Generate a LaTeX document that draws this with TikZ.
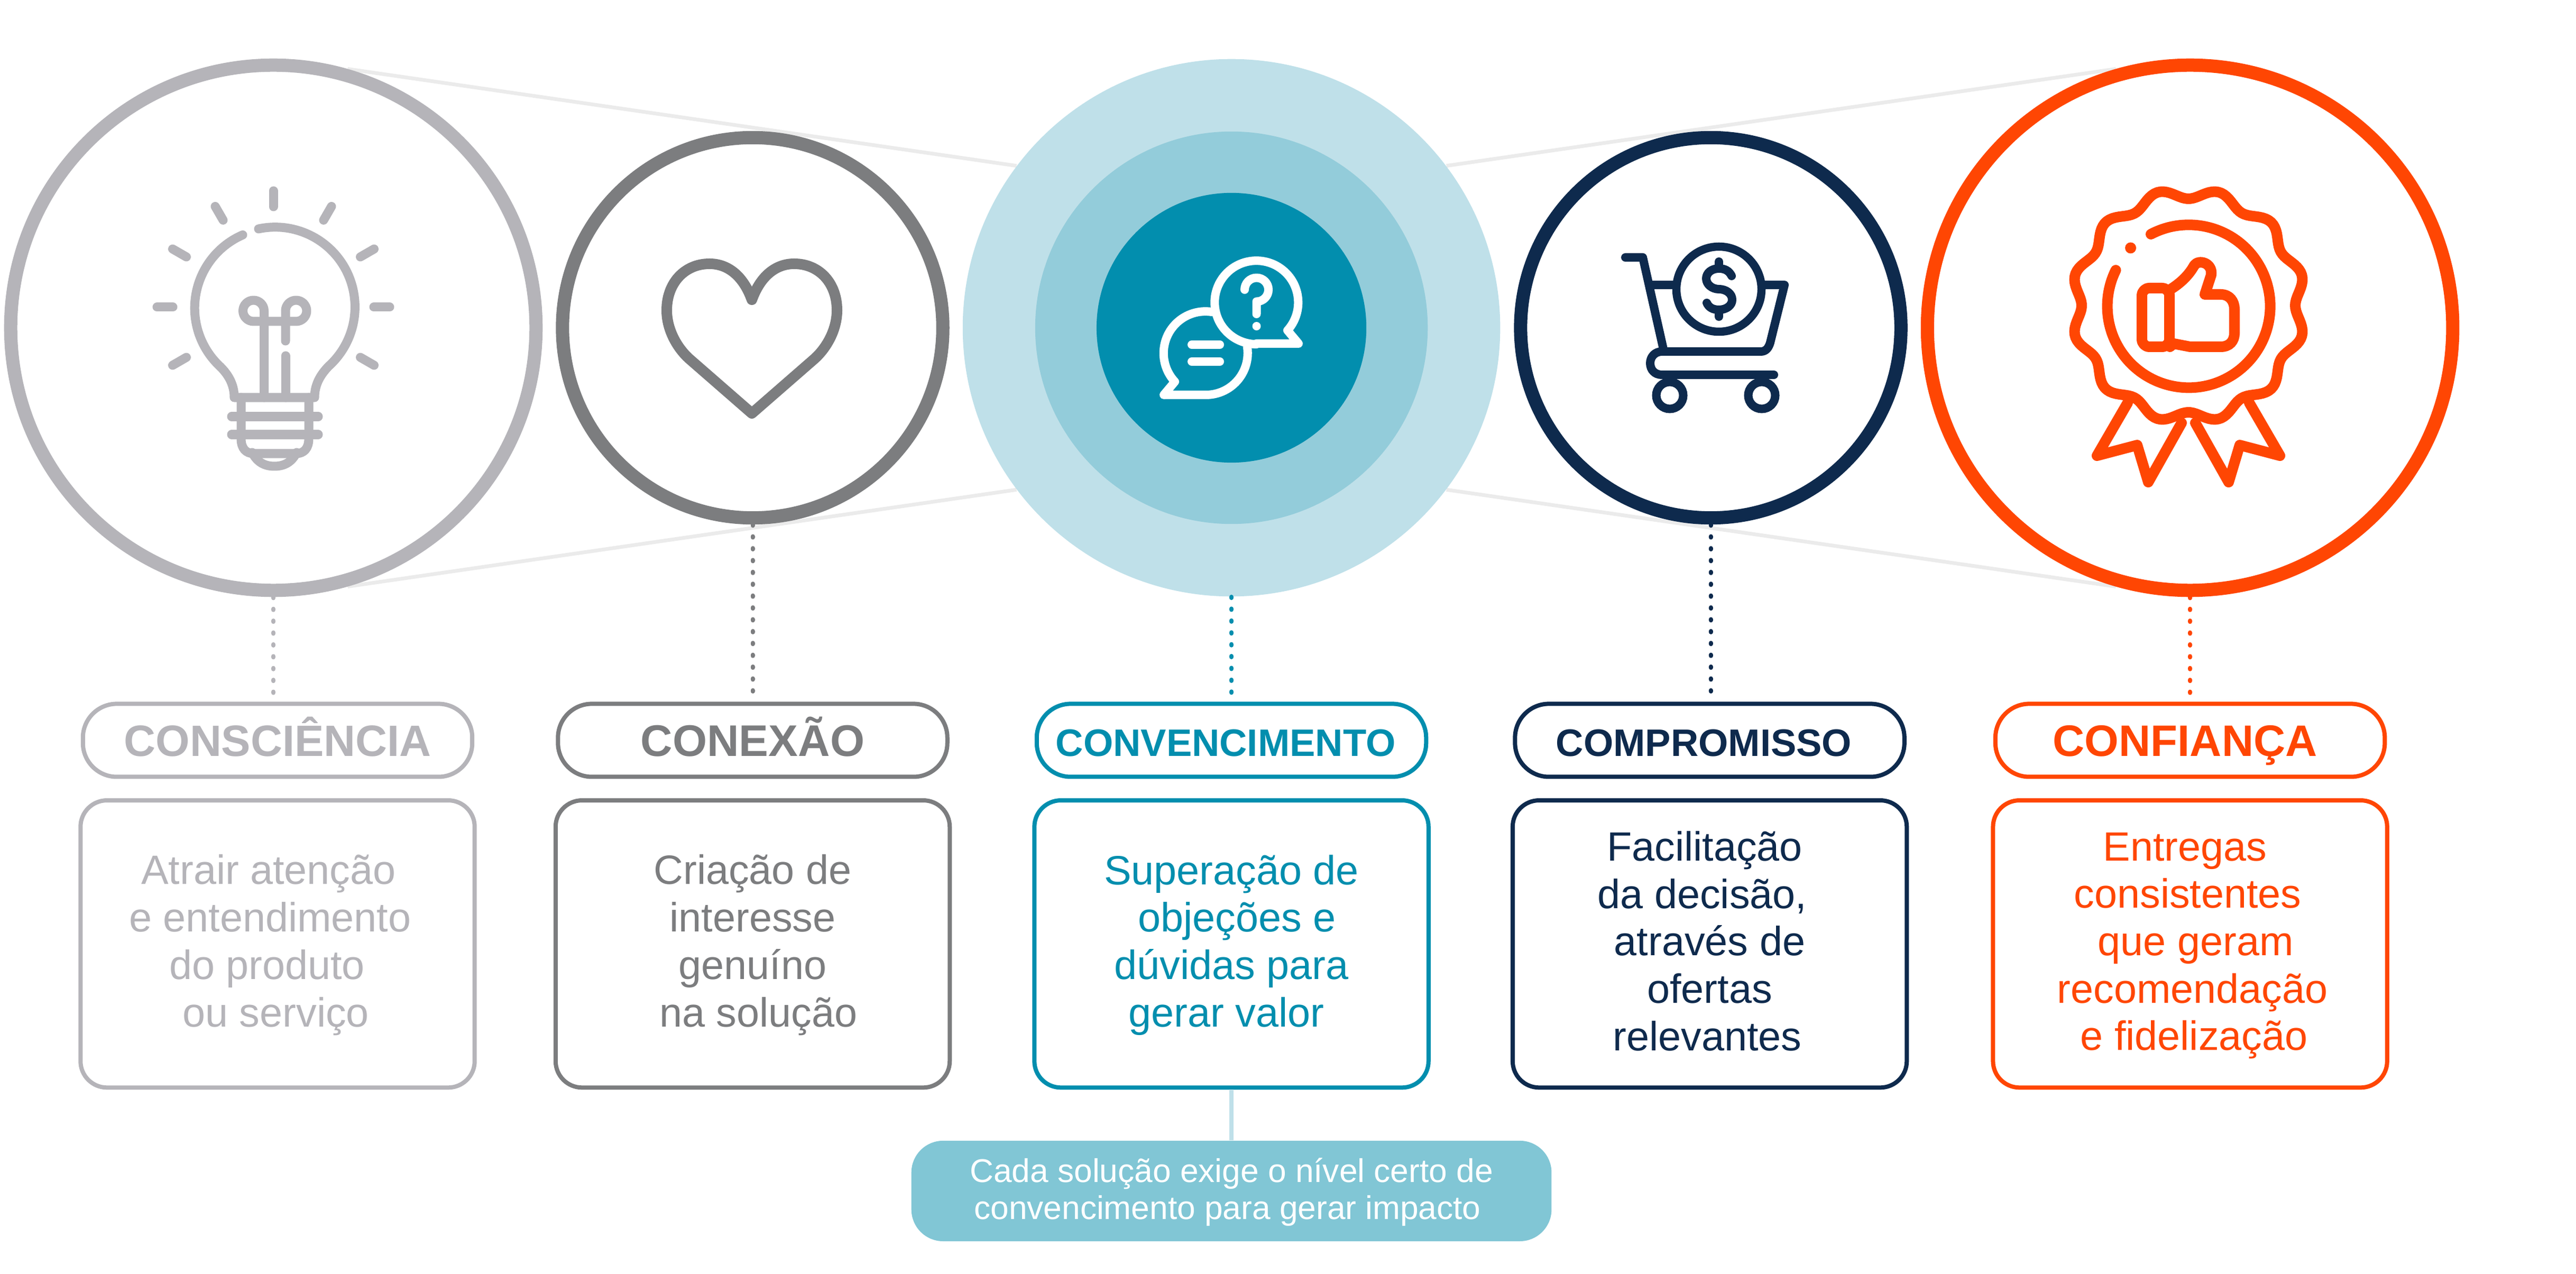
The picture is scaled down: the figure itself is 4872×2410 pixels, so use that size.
\documentclass[tikz,border=0pt]{standalone}
\usepackage{fontspec}
\setmainfont{Liberation Sans}
\usepackage{tikz}
\usetikzlibrary{backgrounds}
\definecolor{faint}{HTML}{B5B4B9}
\definecolor{slate}{HTML}{7C7D7F}
\definecolor{teal1}{HTML}{028EAE}
\definecolor{teal2}{HTML}{93CCDA}
\definecolor{teal3}{HTML}{BFE0E9}
\definecolor{teal4}{HTML}{81C6D5}
\definecolor{navy}{HTML}{0E2A4D}
\definecolor{flame}{HTML}{FF4603}
\definecolor{haze}{HTML}{EBEBEB}
\newcommand{\cardtop}{\rule{0pt}{0.6cm}}
\newcommand{\cardbot}{\rule[-0.16cm]{0pt}{0.16cm}}
\begin{document}
\begin{tikzpicture}[x=0.01cm, y=-0.01cm, node distance=9.06cm]
\useasboundingbox (0,0) rectangle (4872,2410);
% Define styles
\tikzstyle{bigring} = [circle, draw, fill=white, line width=0.25cm, minimum size=9.93cm]
\tikzstyle{midring} = [circle, draw, fill=white, line width=0.25cm, minimum size=7.19cm]
\tikzstyle{disc} = [circle, inner sep=0pt]
\tikzstyle{pill} = [rectangle, draw, fill=white, rounded corners=0.64cm, line width=0.08cm, minimum width=7.36cm, minimum height=1.38cm, inner sep=0pt, text height=0.6cm, text depth=0cm, font=\bfseries, node distance=7.8cm]
\tikzstyle{card} = [rectangle, draw, fill=white, rounded corners=0.5cm, line width=0.08cm, minimum width=7.45cm, minimum height=5.43cm, inner sep=0pt, align=center, font=\fontsize{22}{25.5}\selectfont, node distance=3.85cm]
\tikzstyle{note} = [rectangle, fill=teal4, text=white, rounded corners=0.6cm, minimum width=12.1cm, minimum height=1.9cm, inner sep=0pt, align=center, font=\fontsize{17.7}{20.1}\selectfont, node distance=4.67cm]
\tikzstyle{dots} = [line width=0.08cm, line cap=round, dash pattern=on 0.6pt off 5.77pt]
\tikzstyle{link} = [haze, line width=0.07cm]
\tikzstyle{icon} = [line width=0.17cm, line cap=round, line join=round]
% Place nodes
\node (c1) [bigring, draw=faint] at (517,620) {};
\node (c2) [midring, draw=slate, right of=c1] {};
\node (c3) [disc, fill=teal3, minimum size=10.16cm, right of=c2, xshift=-0.01cm] {};
\node (c3b) [disc, fill=teal2, minimum size=7.42cm] at (c3) {};
\node (c3c) [disc, fill=teal1, minimum size=5.1cm] at (c3) {};
\node (c4) [midring, draw=navy, right of=c3] {};
\node (c5) [bigring, draw=flame, right of=c4] {};
\node (p1) [pill, draw=faint, text=faint, below of=c1, xshift=0.08cm] {\fontsize{23.6}{28}\selectfont CONSCIÊNCIA};
\node (p2) [pill, draw=slate, text=slate, below of=c2] {\fontsize{23.8}{28}\selectfont CONEXÃO};
\node (p3) [pill, draw=teal1, text=teal1, below of=c3] {\fontsize{20.6}{24}\selectfont CONVENCIMENTO\hspace*{0.22cm}};
\node (p4) [pill, draw=navy, text=navy, below of=c4, xshift=-0.02cm] {\fontsize{20.6}{24}\selectfont COMPROMISSO\hspace*{0.22cm}};
\node (p5) [pill, draw=flame, text=flame, below of=c5] {\fontsize{23.7}{28}\selectfont CONFIANÇA\hspace*{0.19cm}};
\node (b1) [card, draw=faint, text=faint, below of=p1] {\cardtop Atrair atenção\hspace*{0.34cm} \\ e entendimento\hspace*{0.28cm} \\ do produto\hspace*{0.4cm} \\ ~ou serviço\hspace*{0.28cm}\cardbot};
\node (b2) [card, draw=slate, text=slate, below of=p2] {\cardtop Criação de \\ interesse \\ genuíno \\ \hspace*{0.22cm}na solução\cardbot};
\node (b3) [card, draw=teal1, text=teal1, below of=p3] {\cardtop Superação de \\ ~objeções e \\ dúvidas para \\ gerar valor\hspace*{0.19cm}\cardbot};
\node (b4) [card, draw=navy, text=navy, below of=p4] {\cardtop Facilitação\hspace*{0.19cm} \\ da decisão,\hspace*{0.28cm} \\ através de \\ ofertas \\ relevantes\hspace*{0.09cm}\cardbot};
\node (b5) [card, draw=flame, text=flame, below of=p5] {\cardtop Entregas\hspace*{0.19cm} \\ consistentes\hspace*{0.09cm} \\ ~que geram \\ \hspace*{0.09cm}recomendação \\ \hspace*{0.15cm}e fidelização\cardbot};
\node (n3) [note, below of=b3] {\rule{0pt}{0.5cm}Cada solução exige o nível certo de \\ convencimento para gerar impacto\hspace*{0.15cm}\rule[-0.1cm]{0pt}{0.1cm}};
% Draw lines
\begin{scope}[on background layer]
\draw [link] (c1.74) -- (c3.143);
\draw [link] (c1.-74) -- (c3.-143);
\draw [link] (c5.106) -- (c3.37);
\draw [link] (c5.-106) -- (c3.-37);
\end{scope}
\draw [dots, faint] (c1.south) -- (c1.south |- p1.north);
\draw [dots, slate] (c2.south) -- (c2.south |- p2.north);
\draw [dots, teal1] (c3.south) -- (p3.north);
\draw [dots, navy] (c4.south) -- (c4.south |- p4.north);
\draw [dots, flame] (c5.south) -- (c5.south |- p5.north);
\draw [teal3, line width=0.08cm] (b3.south) -- (n3.north);
% Lamp
\foreach \a in {90,60,30,0,-30,120,150,180,210}
  \draw [icon, faint] (517,581) ++(\a:-190) -- ++(\a:-30);
\draw [icon, faint] (489,433) arc[start angle=258, end angle=408, radius=151] .. controls (600,715) and (595,735) .. (595,752) -- (443,752) .. controls (443,735) and (438,715) .. (417,694) arc[start angle=132.6, end angle=246.5, radius=151];
\draw [icon, faint] (499.5,752) -- (499.5,588) arc[start angle=0, end angle=-270, radius=20] -- (560,608) arc[start angle=90, end angle=-180, radius=20] -- (540,645);
\draw [icon, faint] (540,673) -- (540,752);
\draw [icon, faint] (456,752) -- (456,830) .. controls (456,848) and (465,858) .. (480,858) -- (560,858) .. controls (575,858) and (584,848) .. (584,830) -- (584,752);
\draw [icon, faint] (438,788) -- (602,788);
\draw [icon, faint] (438,822) -- (602,822);
\draw [icon, faint] (477,856) .. controls (486,874) and (500,882) .. (519,882) .. controls (538,882) and (552,874) .. (561,856);
% Heart
\draw [icon, slate, line width=0.2cm] (1422,567) .. controls (1405,520) and (1375,499) .. (1342,499) .. controls (1295,499) and (1261,535) .. (1261,587) .. controls (1261,625) and (1282,660) .. (1305,680) -- (1422,782) -- (1539,680) .. controls (1562,660) and (1583,625) .. (1583,587) .. controls (1583,535) and (1549,499) .. (1502,499) .. controls (1469,499) and (1439,520) .. (1422,567) -- cycle;
% Chat
\draw [icon, white, line width=0.16cm] (2376,650) -- (2456,650) -- (2435,625) arc[start angle=42, end angle=-270, radius=79];
\draw [icon, white, line width=0.16cm] (2359,657) arc[start angle=-8, end angle=90, radius=79] -- (2201,747) -- (2222,722) arc[start angle=137, end angle=279, radius=79];
\draw [icon, white, line width=0.16cm] (2254,652) -- (2307,652);
\draw [icon, white, line width=0.16cm] (2254,684) -- (2307,684);
\draw [icon, white, line width=0.16cm] (2354,548) arc[start angle=180, end angle=450, radius=22.5] -- (2376.5,594);
\fill [white] (2376.5,617) circle[radius=8];
% Cart
\draw [icon, navy, line width=0.16cm] (3074,487) -- (3107,487) -- (3147,665);
\draw [icon, navy, line width=0.16cm] (3125,539) -- (3170,539);
\draw [icon, navy, line width=0.16cm] (3332,539) -- (3375,539) -- (3348,648) .. controls (3345,658) and (3340,665) .. (3330,665) -- (3143,665) .. controls (3130,665) and (3121,675) .. (3121,687) .. controls (3121,700) and (3130,709) .. (3143,709) -- (3355,709);
\draw [navy, line width=0.16cm] (3158,748) circle[radius=25.5];
\draw [navy, line width=0.16cm] (3332,748) circle[radius=25.5];
\draw [navy, line width=0.155cm] (3251,547) circle[radius=80.5];
\draw [icon, navy, line width=0.16cm] (3275,522) .. controls (3270,512) and (3262,508) .. (3251,508) .. controls (3236,508) and (3227,517) .. (3227,527) .. controls (3227,538) and (3238,547) .. (3251,547) .. controls (3264,547) and (3276,555) .. (3276,567) .. controls (3276,578) and (3265,586) .. (3251,586) .. controls (3240,586) and (3232,582) .. (3228,573);
\draw [icon, navy, line width=0.16cm] (3251,495) -- (3251,508);
\draw [icon, navy, line width=0.16cm] (3251,586) -- (3251,599);
% Badge
\draw [icon, flame, line width=0.2cm] plot[domain=0:360, samples=240] ({4139+(212-10*cos(12*\x))*cos(\x)},{578+(212-10*cos(12*\x))*sin(\x)}) -- cycle;
\draw [icon, flame, line width=0.2cm] (4068,443) arc[start angle=242.3, end angle=566.3, radius=154];
\fill [flame] (4029.6,469) circle[radius=10.5];
\draw [icon, flame, line width=0.2cm, rounded corners=0.14cm] (4103,545) -- (4051,545) -- (4051,656) -- (4103,656) -- cycle;
\draw [icon, flame, line width=0.2cm] (4104,548) .. controls (4125,535) and (4140,520) .. (4150,502) .. controls (4158,490) and (4185,497) .. (4182,520) -- (4170,557) -- (4200,557) .. controls (4217,557) and (4226,570) .. (4226,585) -- (4226,630) .. controls (4226,645) and (4217,656) .. (4200,656) -- (4142,656) -- (4111,650) -- (4104,656);
\draw [icon, flame, line width=0.2cm] (4024,762) -- (3966,862) -- (4042,842) -- (4063,912) -- (4126,800);
\draw [icon, flame, line width=0.2cm] (4254,762) -- (4312,862) -- (4236,842) -- (4215,912) -- (4152,800);
\end{tikzpicture}
\end{document}
